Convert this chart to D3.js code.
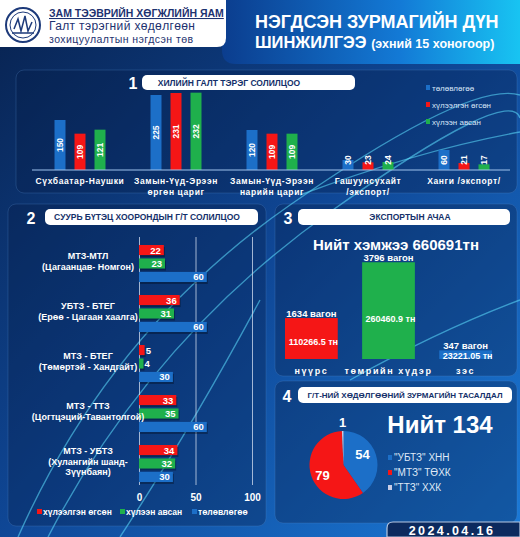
<html>
<script src="https://cdnjs.cloudflare.com/ajax/libs/d3/7.8.5/d3.min.js"></script>
<style>
  body { margin: 0; background: #0a2456; }
  text { font-family: "Liberation Sans", Arial, sans-serif; }
</style>
<body>
  <svg width="520" height="537"></svg>
</body>
</html>
<script>
  // 1. border crossings
  const borderCats = [["Сүхбаатар-Наушки"], ["Замын-Үүд-Эрээн", "өргөн цариг"], ["Замын-Үүд-Эрээн", "нарийн цариг"], ["Гашуунсухайт", "/экспорт/"], ["Ханги /экспорт/"]];
  const borderPlan = [150, 225, 120, 30, 60];
  const borderSent = [109, 231, 109, 23, 21];
  const borderRecv = [121, 232, 109, 24, 17];
  const seriesNames = ["төлөвлөгөө", "хүлээлгэн өгсөн", "хүлээн авсан"];

  // 2. infrastructure links
  const linkCats = [["МТЗ-МТЛ", "(Цагаанцав-  Номгон)"], ["УБТЗ - БТЕГ", "(Ерөө - Цагаан хаалга)"], ["МТЗ - БТЕГ", "(Төмөртэй - Хандгайт)"], ["МТЗ - ТТЗ", "(Цогтцэций-Тавантолгой)"], ["МТЗ - УБТЗ", "(Хулангийн шанд-", "Зүүнбаян)"]];
  const linkSent = [22, 36, 5, 33, 34];
  const linkRecv = [23, 31, 4, 35, 32];
  const linkPlan = [60, 60, 30, 60, 30];
  const linkTicks = [0, 50, 100];

  // 3. export cargo
  const exportCats = ["нүүрс", "төмрийн хүдэр", "зэс"];
  const exportTons = [110266.5, 260460.9, 23221.05];
  const exportWagons = [1634, 3796, 347];
  const exportTotal = 660691;

  // 4. disruptions
  const disruptNames = ['"УБТЗ" ХНН', '"МТЗ" ТӨХК', '"ТТЗ" ХХК'];
  const disruptCounts = [54, 79, 1];

  const BLUE = "#1c6fc8", RED = "#f51616", GREEN = "#1fb04c";

  const svg = d3.select("svg");
  const defs = svg.append("defs");

  const bg = defs.append("linearGradient").attr("id", "bg")
    .attr("x1", "0").attr("y1", "0").attr("x2", "1").attr("y2", "1");
  bg.append("stop").attr("offset", "0").attr("stop-color", "#08224f");
  bg.append("stop").attr("offset", "0.5").attr("stop-color", "#0f4796");
  bg.append("stop").attr("offset", "1").attr("stop-color", "#1b7ad8");

  const ban = defs.append("linearGradient").attr("id", "ban");
  ban.append("stop").attr("offset", "0").attr("stop-color", "#0b3d8e");
  ban.append("stop").attr("offset", "0.6").attr("stop-color", "#137ad6");
  ban.append("stop").attr("offset", "1").attr("stop-color", "#18c4f2");

  svg.append("rect").attr("width", 520).attr("height", 537).attr("fill", "url(#bg)");

  // header
  svg.append("path").attr("d", "M222,0 H520 V64 H236 Q222,64 222,50 Z").attr("fill", "url(#ban)");
  svg.append("path").attr("d", "M0,0 H226 V38 Q226,47 217,47 H0 Z").attr("fill", "#fff");

  const logo = svg.append("g").attr("transform", "translate(23,25)").attr("fill", "none").attr("stroke", "#1d3a7a");
  logo.append("circle").attr("r", 17).attr("stroke-width", 2);
  logo.append("circle").attr("r", 13).attr("stroke-width", 1);
  logo.append("path").attr("d", "M-9,4 L-5,-6 L-2,6 L2,-9 L5,6 L9,-3").attr("stroke-width", 1.5);
  logo.append("path").attr("d", "M-11,8 H11").attr("stroke-width", 1.5);

  svg.append("text").attr("x", 49).attr("y", 17).attr("font-size", 10.5).attr("font-weight", "bold")
    .attr("fill", "#1d3270").attr("text-decoration", "underline").text("ЗАМ ТЭЭВРИЙН ХӨГЖЛИЙН ЯАМ");
  svg.append("text").attr("x", 49).attr("y", 30).attr("font-size", 12).attr("letter-spacing", 0.35)
    .attr("fill", "#1d3270").text("Галт тэрэгний хөдөлгөөн");
  svg.append("text").attr("x", 49).attr("y", 43).attr("font-size", 10.5).attr("letter-spacing", 0.45)
    .attr("fill", "#1d3270").text("зохицуулалтын нэгдсэн төв");

  svg.append("text").attr("x", 255).attr("y", 28).attr("font-size", 18).attr("font-weight", "bold")
    .attr("fill", "#fff").text("НЭГДСЭН ЗУРМАГИЙН ДҮН");
  const sub = svg.append("text").attr("x", 255).attr("y", 48).attr("font-weight", "bold").attr("fill", "#fff");
  sub.append("tspan").attr("font-size", 16.5).text("ШИНЖИЛГЭЭ ");
  sub.append("tspan").attr("font-size", 12.5).text("(эхний 15 хоногоор)");

  // panels
  const panels = [[16, 70, 501, 123], [8, 204, 258, 322], [275, 204, 242, 172], [275, 381, 242, 142]];
  svg.selectAll(".panel").data(panels).enter().append("rect")
    .attr("x", d => d[0]).attr("y", d => d[1]).attr("width", d => d[2]).attr("height", d => d[3])
    .attr("rx", 8).attr("fill", "#061c48").attr("fill-opacity", 0.35)
    .attr("stroke", "#5a8fd0").attr("stroke-opacity", 0.25);

  // decorative curves
  const curves = [
    "M18,537 Q110,330 290,205 T520,95",
    "M48,537 Q150,340 330,212 T520,118",
    "M300,195 Q420,150 520,132",
    "M350,380 Q440,330 520,300",
    "M120,537 Q190,430 260,300"
  ];
  svg.selectAll(".curve").data(curves).enter().append("path")
    .attr("d", d => d).attr("fill", "none").attr("stroke", "#5fe0ff")
    .attr("stroke-opacity", 0.55).attr("stroke-width", 1.4);

  function titleBox(num, nx, ny, x, y, w, h, label, lx, fs) {
    svg.append("text").attr("x", nx).attr("y", ny).attr("font-size", 16).attr("font-weight", "bold")
      .attr("fill", "#fff").attr("text-anchor", "middle").text(num);
    svg.append("rect").attr("x", x).attr("y", y).attr("width", w).attr("height", h).attr("rx", 5).attr("fill", "#fff");
    svg.append("text").attr("x", lx).attr("y", y + h / 2 + 3).attr("font-size", fs).attr("font-weight", "bold")
      .attr("fill", "#14306a").attr("text-anchor", "middle").text(label);
  }
  titleBox("1", 133, 89, 142, 75, 213, 15, "ХИЛИЙН ГАЛТ ТЭРЭГ СОЛИЛЦОО", 229, 8.5);
  titleBox("2", 31, 224, 45, 209, 213, 16, "СУУРЬ БҮТЭЦ ХООРОНДЫН Г/Т СОЛИЛЦОО", 147, 8.5);
  titleBox("3", 288, 224, 298, 209, 212, 16, "ЭКСПОРТЫН АЧАА", 410, 8.5);
  titleBox("4", 287, 402, 298, 387, 214, 16, "Г/Т-НИЙ ХӨДӨЛГӨӨНИЙ ЗУРМАГИЙН ТАСАЛДАЛ", 405, 8);

  // ---------- chart 1 ----------
  const c1 = svg.append("g");
  const x1 = d3.scaleBand().domain(d3.range(borderCats.length)).range([32, 512]);
  const x1in = d3.scaleBand().domain([0, 1, 2]).range([-30, 30]).paddingInner(0.45).paddingOuter(0.225);
  const y1 = d3.scaleLinear().domain([0, 300]).range([170, 70]);
  const col1 = [BLUE, RED, GREEN];
  const rows1 = [];
  borderCats.forEach((c, i) => {
    [borderPlan[i], borderSent[i], borderRecv[i]].forEach((v, s) => rows1.push({ i, s, v }));
  });
  c1.selectAll("rect").data(rows1).enter().append("rect")
    .attr("x", d => x1(d.i) + x1.bandwidth() / 2 + x1in(d.s))
    .attr("y", d => y1(d.v)).attr("width", x1in.bandwidth())
    .attr("height", d => y1(0) - y1(d.v)).attr("fill", d => col1[d.s]);
  c1.selectAll(".val").data(rows1).enter().append("text")
    .attr("transform", d => {
      const cx = x1(d.i) + x1.bandwidth() / 2 + x1in(d.s) + x1in.bandwidth() / 2 + 3;
      const cy = Math.min((y1(d.v) + y1(0)) / 2, y1(0) - 10);
      return `translate(${cx},${cy}) rotate(-90)`;
    })
    .attr("text-anchor", "middle").attr("font-size", 8.5).attr("font-weight", "bold").attr("fill", "#fff")
    .text(d => d.v);
  c1.append("g").attr("transform", "translate(0,170)")
    .call(d3.axisBottom(x1).tickSize(0).tickFormat(""))
    .call(g => g.select(".domain").attr("stroke", "#9fc3ee").attr("stroke-width", 1.2).attr("d", "M0,0H478").attr("transform", "translate(32,0)"));
  borderCats.forEach((lines, i) => {
    lines.forEach((t, k) => {
      c1.append("text").attr("x", x1(i) + x1.bandwidth() / 2).attr("y", 184 + k * 11)
        .attr("text-anchor", "middle").attr("font-size", 8.5).attr("font-weight", "bold")
        .attr("letter-spacing", 0.6).attr("fill", "#fff").text(t);
    });
  });
  seriesNames.forEach((n, k) => {
    c1.append("rect").attr("x", 426).attr("y", 85 + k * 17).attr("width", 4).attr("height", 5).attr("fill", col1[k]);
    c1.append("text").attr("x", 432).attr("y", 91 + k * 17).attr("font-size", 8).attr("fill", "#d6e4f6").text(n);
  });

  // ---------- chart 2 ----------
  const c2 = svg.append("g");
  const x2 = d3.scaleLinear().domain([0, 100]).range([139, 252]);
  const y2 = d3.scaleBand().domain(d3.range(linkCats.length)).range([237, 487]);
  const y2in = d3.scaleBand().domain([0, 1, 2]).range([8, 45]).paddingInner(0.25);
  c2.append("g").attr("transform", "translate(0,485)")
    .call(d3.axisBottom(x2).tickValues(linkTicks).tickSize(-248).tickPadding(9))
    .call(g => g.select(".domain").remove())
    .call(g => g.selectAll("line").attr("stroke", "#c9d6ea").attr("stroke-opacity", 0.8))
    .call(g => g.selectAll("text").attr("fill", "#fff").attr("font-size", 10).attr("font-weight", "bold")
      .attr("font-family", "Liberation Sans, Arial, sans-serif"));
  const col2 = [RED, GREEN, BLUE];
  const rows2 = [];
  linkCats.forEach((c, i) => {
    [linkSent[i], linkRecv[i], linkPlan[i]].forEach((v, s) => rows2.push({ i, s, v }));
  });
  c2.selectAll(".shadow").data(rows2).enter().append("rect")
    .attr("x", x2(0) + 1).attr("y", d => y2(d.i) + y2in(d.s) + 2)
    .attr("width", d => x2(d.v) - x2(0)).attr("height", y2in.bandwidth())
    .attr("fill", "#000").attr("fill-opacity", 0.3);
  c2.selectAll(".bar").data(rows2).enter().append("rect")
    .attr("x", x2(0)).attr("y", d => y2(d.i) + y2in(d.s))
    .attr("width", d => x2(d.v) - x2(0)).attr("height", y2in.bandwidth()).attr("fill", d => col2[d.s]);
  c2.selectAll(".val").data(rows2).enter().append("text")
    .attr("x", d => d.v < 8 ? x2(d.v) + 1 : x2(d.v) - 3)
    .attr("y", d => y2(d.i) + y2in(d.s) + y2in.bandwidth() / 2 + 3.5)
    .attr("text-anchor", d => d.v < 8 ? "start" : "end")
    .attr("font-size", 9.5).attr("font-weight", "bold").attr("fill", "#fff").text(d => d.v);
  linkCats.forEach((lines, i) => {
    const mid = y2(i) + 27;
    lines.forEach((t, k) => {
      c2.append("text").attr("x", 88).attr("y", mid - (lines.length - 1) * 5 + k * 10.5)
        .attr("text-anchor", "middle").attr("font-size", 9).attr("font-weight", "bold")
        .attr("fill", "#fff").text(t);
    });
  });
  const leg2 = [[37, "хүлээлгэн өгсөн"], [120, "хүлээн авсан"], [192, "төлөвлөгөө"]];
  leg2.forEach((l, k) => {
    c2.append("rect").attr("x", l[0]).attr("y", 509).attr("width", 5).attr("height", 5).attr("fill", col2[k]);
    c2.append("text").attr("x", l[0] + 6).attr("y", 515).attr("font-size", 8.5).attr("font-weight", "bold")
      .attr("fill", "#fff").text(l[1]);
  });

  // ---------- chart 3 ----------
  const c3 = svg.append("g");
  const x3 = d3.scaleBand().domain(exportCats).range([285, 492]).paddingInner(0.316);
  const y3 = d3.scaleLinear().domain([0, 280000]).range([359, 255]);
  const col3 = [RED, GREEN, BLUE];
  c3.append("text").attr("x", 396).attr("y", 250).attr("text-anchor", "middle")
    .attr("font-size", 15).attr("font-weight", "bold").attr("fill", "#fff")
    .text("Нийт хэмжээ " + exportTotal + "тн");
  c3.selectAll("rect").data(exportCats).enter().append("rect")
    .attr("x", d => x3(d)).attr("y", (d, i) => y3(exportTons[i])).attr("width", x3.bandwidth())
    .attr("height", (d, i) => y3(0) - y3(exportTons[i])).attr("fill", (d, i) => col3[i]);
  c3.selectAll(".wag").data(exportCats).enter().append("text")
    .attr("x", d => x3(d) + x3.bandwidth() / 2).attr("y", (d, i) => y3(exportTons[i]) - 1)
    .attr("text-anchor", "middle").attr("font-size", 9.5).attr("font-weight", "bold").attr("fill", "#fff")
    .text((d, i) => exportWagons[i] + " вагон");
  c3.selectAll(".ton").data(exportCats).enter().append("text")
    .attr("x", d => x3(d) + x3.bandwidth() / 2 + 2).attr("y", (d, i) => y3(exportTons[i] * 0.42) + 3.5)
    .attr("text-anchor", "middle").attr("font-size", 9).attr("font-weight", "bold").attr("fill", "#fff")
    .text((d, i) => exportTons[i] + " тн");
  c3.selectAll(".cat").data(exportCats).enter().append("text")
    .attr("x", d => x3(d) + x3.bandwidth() / 2).attr("y", 374)
    .attr("text-anchor", "middle").attr("font-size", 9).attr("font-weight", "bold")
    .attr("letter-spacing", 1.6).attr("fill", "#fff").text(d => d);

  // ---------- chart 4 ----------
  const c4 = svg.append("g").attr("transform", "translate(343.5,465)");
  const col4 = [BLUE, RED, "#c9cde6"];
  const pie = d3.pie().sort(null)(disruptCounts);
  const arc = d3.arc().innerRadius(0).outerRadius(34);
  c4.selectAll("path").data(pie).enter().append("path").attr("d", arc).attr("fill", (d, i) => col4[i]);
  const lblPos = [[19, -6], [-21, 15], [-1, -38]];
  c4.selectAll(".pl").data(pie).enter().append("text")
    .attr("x", (d, i) => lblPos[i][0]).attr("y", (d, i) => lblPos[i][1])
    .attr("text-anchor", "middle").attr("font-size", 13).attr("font-weight", "bold").attr("fill", "#fff")
    .text(d => d.data);
  svg.append("text").attr("x", 440).attr("y", 433).attr("text-anchor", "middle")
    .attr("font-size", 24).attr("font-weight", "bold").attr("fill", "#fff")
    .text("Нийт " + d3.sum(disruptCounts));
  disruptNames.forEach((n, k) => {
    svg.append("rect").attr("x", 388).attr("y", 455 + k * 15).attr("width", 4).attr("height", 5).attr("fill", col4[k]);
    svg.append("text").attr("x", 394).attr("y", 461 + k * 15).attr("font-size", 10).attr("fill", "#dfe8f6").text(n);
  });

  // date
  svg.append("path").attr("d", "M387,537 V528 Q387,522 393,522 H520 V537 Z")
    .attr("fill", "#0c2a5e").attr("stroke", "#b8c8e2").attr("stroke-width", 1.2);
  svg.append("text").attr("x", 452).attr("y", 535).attr("text-anchor", "middle")
    .attr("font-size", 12.5).attr("font-weight", "bold").attr("letter-spacing", 2.4)
    .attr("fill", "#fff").text("2024.04.16");
</script>
